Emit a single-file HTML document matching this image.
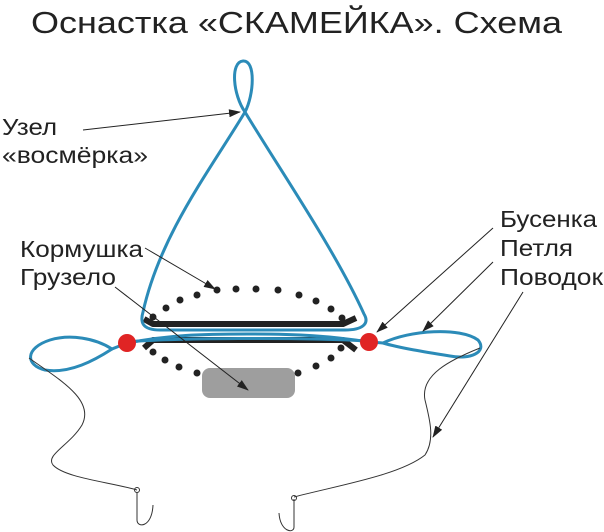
<!DOCTYPE html>
<html><head><meta charset="utf-8"><style>html,body{margin:0;padding:0;background:#fff}svg{display:block}</style></head>
<body>
<svg width="604" height="532" viewBox="0 0 604 532" xmlns="http://www.w3.org/2000/svg" font-family="Liberation Sans, sans-serif">
<defs>
<marker id="ar" markerWidth="12" markerHeight="8" refX="11" refY="4" orient="auto" markerUnits="userSpaceOnUse">
<path d="M0,0 L12,4 L0,8 Z" fill="#222"/></marker>
</defs>
<rect width="604" height="532" fill="#fff"/>
<text x="31" y="33" font-size="31" fill="#222" textLength="531" lengthAdjust="spacingAndGlyphs">Оснастка «СКАМЕЙКА». Схема</text>
<g font-size="23" fill="#222">
<text x="2" y="135" textLength="55" lengthAdjust="spacingAndGlyphs">Узел</text>
<text x="2" y="163" textLength="146" lengthAdjust="spacingAndGlyphs">«восмёрка»</text>
<text x="20" y="257" textLength="123" lengthAdjust="spacingAndGlyphs">Кормушка</text>
<text x="20" y="285" textLength="96" lengthAdjust="spacingAndGlyphs">Грузело</text>
<text x="500" y="227" textLength="97" lengthAdjust="spacingAndGlyphs">Бусенка</text>
<text x="500" y="256" textLength="73" lengthAdjust="spacingAndGlyphs">Петля</text>
<text x="500" y="285" textLength="103" lengthAdjust="spacingAndGlyphs">Поводок</text>
</g>
<g fill="#222">
<circle cx="217" cy="290" r="3.5"/><circle cx="236" cy="289" r="3.5"/><circle cx="256" cy="289" r="3.5"/><circle cx="278" cy="290" r="3.5"/><circle cx="299" cy="295" r="3.5"/><circle cx="316" cy="301" r="3.5"/><circle cx="331" cy="309" r="3.5"/><circle cx="342" cy="318" r="3.5"/>
<circle cx="197" cy="295" r="3.5"/><circle cx="180" cy="300" r="3.5"/><circle cx="166" cy="308" r="3.5"/><circle cx="153" cy="317" r="3.5"/>
<circle cx="153" cy="352" r="3.5"/><circle cx="165" cy="360" r="3.5"/><circle cx="179" cy="367" r="3.5"/><circle cx="197" cy="373" r="3.5"/>
<circle cx="298" cy="373" r="3.5"/><circle cx="316" cy="366" r="3.5"/><circle cx="331" cy="358" r="3.5"/><circle cx="341" cy="348" r="3.5"/>
</g>
<rect x="202" y="368" width="93" height="30" rx="8" fill="#9e9e9e"/>
<g stroke="#222" stroke-width="6" fill="none" stroke-linejoin="round">
<path d="M144,319 L153,324 L343,324 L356,318"/>
<path d="M144,348 L153,340 L343,340 L356,350"/>
</g>
<g stroke="#2b8bb8" stroke-width="3" fill="none" stroke-linecap="round">
<path d="M245,112 C233,95 230,62 243,61 C256,60 254,95 245,112 C210,170 160,235 143,312 C140,322 142,330 160,330 L345,330 C362,330 370,324 364,314 C335,250 280,170 245,112"/>
<path d="M127,343 C170,335 200,334 248,334 C300,334 330,336 369,342"/>
<path d="M127,342 C170,338 300,337 369,341"/>
<path d="M112,349 C95,338 70,334 50,340 C25,348 25,365 45,370 C70,374 95,360 112,349 L127,343"/>
<path d="M383,343 C410,330 460,327 478,340 C488,352 470,360 450,356 C425,352 400,348 383,343 L369,342"/>
</g>
<circle cx="127" cy="343" r="9" fill="#e02424"/>
<circle cx="369" cy="342" r="9" fill="#e02424"/>
<g stroke="#333" stroke-width="1" fill="none">
<path d="M29,358 C60,380 95,400 82,425 C70,445 45,455 53,465 C65,478 110,482 137,490"/>
<path d="M137,492 L137,520 C137,528 152,528 153,505"/>
<circle cx="137" cy="490" r="2.5"/>
<path d="M480,348 C450,360 420,375 425,400 C430,420 435,440 425,455 C400,475 340,485 294,497"/>
<path d="M294,499 L294,527 C294,534 280,532 279,513"/>
<circle cx="294" cy="498" r="2.5"/>
</g>
<g stroke="#222" stroke-width="1" fill="none" marker-end="url(#ar)">
<line x1="83" y1="130" x2="240" y2="112"/>
<line x1="145" y1="248" x2="215" y2="289"/>
<line x1="115" y1="287" x2="248" y2="390"/>
<line x1="493" y1="228" x2="377" y2="332"/>
<line x1="493" y1="262" x2="423" y2="331"/>
<line x1="523" y1="292" x2="433" y2="437"/>
</g>
</svg>
</body></html>
